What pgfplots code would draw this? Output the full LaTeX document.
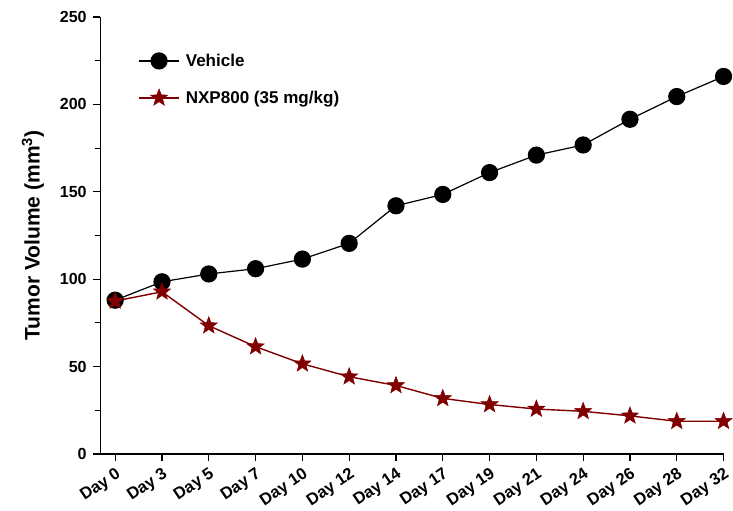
\documentclass[border=0pt]{standalone}
\usepackage{fontspec}
\setmainfont{Liberation Sans}
\usepackage{pgfplots}
\pgfplotsset{compat=1.18}
\definecolor{nxp}{RGB}{128,0,0}

% filled five-pointed star
\pgfdeclareplotmark{fstar}{%
  \pgfpathmoveto{\pgfpointpolar{90}{\pgfplotmarksize}}%
  \pgfpathlineto{\pgfpointpolar{126}{0.42\pgfplotmarksize}}%
  \pgfpathlineto{\pgfpointpolar{162}{\pgfplotmarksize}}%
  \pgfpathlineto{\pgfpointpolar{198}{0.42\pgfplotmarksize}}%
  \pgfpathlineto{\pgfpointpolar{234}{\pgfplotmarksize}}%
  \pgfpathlineto{\pgfpointpolar{270}{0.42\pgfplotmarksize}}%
  \pgfpathlineto{\pgfpointpolar{306}{\pgfplotmarksize}}%
  \pgfpathlineto{\pgfpointpolar{342}{0.42\pgfplotmarksize}}%
  \pgfpathlineto{\pgfpointpolar{18}{\pgfplotmarksize}}%
  \pgfpathlineto{\pgfpointpolar{54}{0.42\pgfplotmarksize}}%
  \pgfpathclose
  \pgfusepathqfillstroke}

\begin{document}
\begin{tikzpicture}
\begin{axis}[
    width=622pt, height=436pt, scale only axis,
    xmin=-0.32, xmax=13,
    ymin=0, ymax=250,
    axis x line*=bottom, axis y line*=left,
    axis line style={line width=1.3pt},
    xtick={0,...,13},
    xticklabels={Day 0,Day 3,Day 5,Day 7,Day 10,Day 12,Day 14,Day 17,Day 19,Day 21,Day 24,Day 26,Day 28,Day 32},
    ytick={0,50,...,250},
    minor y tick num=1,
    tick align=outside,
    major tick length=7pt, minor tick length=5pt,
    tick style={line width=1.1pt, black},
    x tick label style={rotate=34, anchor=north east, inner sep=1pt,
        font=\bfseries\fontsize{16.5}{19}\selectfont},
    xticklabel shift=4pt,
    y tick label style={font=\bfseries\fontsize{16}{18}\selectfont, xshift=-3pt},
    /pgf/number format/assume math mode=true,
    ylabel={Tumor Volume (mm\textsuperscript{3})},
    ylabel style={at={(rel axis cs:-0.108,0.5)}, anchor=center,
        font=\bfseries\fontsize{21}{23}\selectfont},
    legend style={draw=none, fill=none, at={(rel axis cs:0.056,0.925)}, anchor=north west,
        font=\bfseries\fontsize{17}{19}\selectfont, row sep=19pt, column sep=4pt},
    legend cell align=left,
    legend image code/.code={%
        \draw[mark repeat=2, mark phase=2] plot coordinates {(0pt,0pt) (20pt,0pt) (40pt,0pt)};},
    clip=false,
]
\addplot[black, line width=1.2pt, mark=*, mark size=8pt, mark options={fill=black}]
coordinates {
    (0,88) (1,98.5) (2,103) (3,106) (4,111.5) (5,120.5) (6,142)
    (7,148.5) (8,161) (9,171) (10,176.8) (11,191.5) (12,204.5) (13,216)
};
\addlegendentry{Vehicle}
\addplot[nxp, line width=1.4pt, mark=fstar, mark size=9pt, mark options={fill=nxp, line width=0.5pt}]
coordinates {
    (0,87.5) (1,92.8) (2,73.4) (3,61.4) (4,51.6) (5,44.2) (6,39.2)
    (7,31.8) (8,28.3) (9,25.7) (10,24.4) (11,21.8) (12,18.7) (13,18.7)
};
\addlegendentry{NXP800 (35 mg/kg)}
% white margins as in the reference
\path (rel axis cs:0,1) ++(-100pt,17pt);
\end{axis}
\end{tikzpicture}
\end{document}
